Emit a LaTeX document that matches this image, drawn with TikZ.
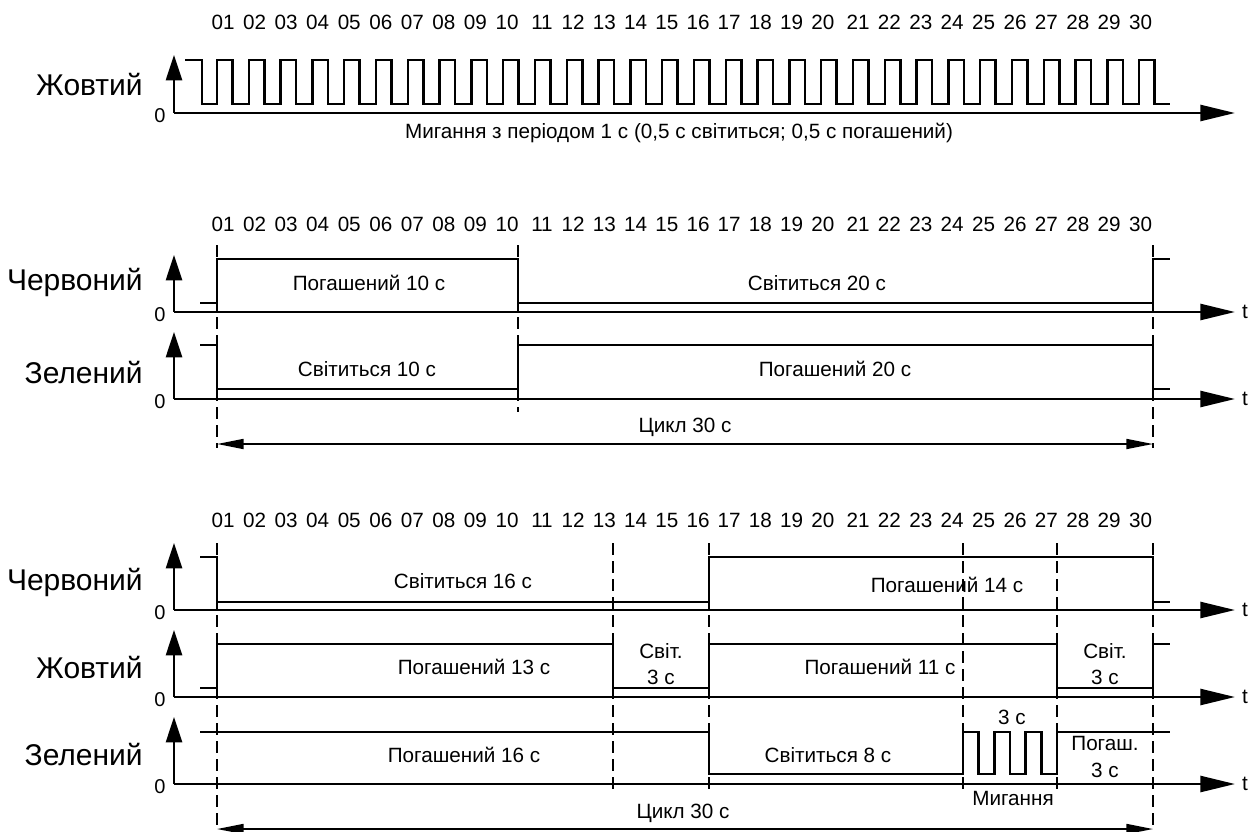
\documentclass[tikz,border=0pt]{standalone}
\usepackage{fontspec}
\setmainfont{Liberation Sans}
\usetikzlibrary{arrows.meta}
\newcommand\NumRow[2]{%
  \foreach \k/\s in {1/01,2/02,3/03,4/04,5/05,6/06,7/07,8/08,9/09,10/10}
    \node[num] (#2\k) at ({223+(\k-1)*31.56},#1) {\s};
  \foreach \k in {11,...,20}
    \node[num] (#2\k) at ({542+(\k-11)*31.2},#1) {\k};
  \foreach \k in {21,...,30}
    \node[num] (#2\k) at ({858+(\k-21)*31.4},#1) {\k};
}
\newcommand\AxisPair[4]{% axis y, tip y, name, show t
  \coordinate (#3o) at (174,#1);
  \coordinate (#3v) at (174,#2);
  \coordinate (#3h) at (1235,#1);
  \draw[vaxis] (#3o) -- (#3v);
  \draw[haxis] (#3o) -- (#3h);
  \node[zero] (#3z) at (160,{#1+3}) {0};
  \ifnum#4=1 \node[num] (#3t) at (1245,#1) {t};\fi
}
\begin{document}
\begin{tikzpicture}[x=0.75pt,y=-0.75pt,
  sig/.style={line width=1.9pt, line join=miter},
  vaxis/.style={line width=1.9pt, -{Triangle[length=19pt,width=12pt]}},
  haxis/.style={line width=1.9pt, -{Triangle[length=26pt,width=12pt]}},
  guide/.style={line width=1.1pt, dash pattern=on 9pt off 4.5pt},
  cyc/.style={line width=1.3pt, {Triangle[length=20pt,width=7.5pt]}-{Triangle[length=20pt,width=7.5pt]}},
  num/.style={font=\fontsize{15.5}{18}\selectfont, inner sep=0pt},
  chan/.style={font=\fontsize{22.5}{27}\selectfont, anchor=east, inner sep=0pt},
  lbl/.style={font=\fontsize{15.5}{20}\selectfont, inner sep=0pt, align=center},
  zero/.style={font=\fontsize{15}{17}\selectfont, inner sep=0pt},
]
\useasboundingbox (0,0) rectangle (1251,831);

% ---------------- top chart ----------------
\NumRow{22}{a}
\node[chan] (ay) at (143,85) {Жовтий};
\AxisPair{113}{55}{ax}{0}
\draw[sig] (185,60) -- (202,60) -- (202,104) -- (217,104)
  \foreach \k in {0,...,29}{ -- ({217+\k*31.8},104) -- ({217+\k*31.8},60)
     -- ({232.5+\k*31.8},60) -- ({232.5+\k*31.8},104) } -- (1170,104);
\node[num] (ablink) at (679,133) {Мигання з періодом 1 с (0,5 с світиться; 0,5 с погашений)};

% ---------------- middle chart ----------------
\NumRow{224}{b}
\node[chan] (br) at (143,282) {Червоний};
\node[chan] (bg) at (143,373) {Зелений};
\coordinate (bg0t) at (217,245); \coordinate (bg0b) at (217,448);
\coordinate (bg10t) at (518,245); \coordinate (bg10b) at (518,412);
\coordinate (bg30t) at (1153,245); \coordinate (bg30b) at (1153,448);
\draw[guide] (bg0t) -- (bg0b);
\draw[guide] (bg10t) -- (bg10b);
\draw[guide] (bg30t) -- (bg30b);
\AxisPair{312}{255}{bxr}{1}
\AxisPair{399}{332}{bxg}{1}
\draw[sig] (200,303) -- (217,303) -- (217,259) -- (518,259) -- (518,303)
  -- (1153,303) -- (1153,259) -- (1170,259);
\draw[sig] (200,345) -- (217,345) -- (217,389) -- (518,389) -- (518,345)
  -- (1153,345) -- (1153,389) -- (1170,389);
\node[lbl] (b1) at (369,283) {Погашений 10 с};
\node[lbl] (b2) at (817,283) {Світиться 20 с};
\node[lbl] (b3) at (367,369) {Світиться 10 с};
\node[lbl] (b4) at (835,369) {Погашений 20 с};
\coordinate (bca) at (217,444); \coordinate (bcb) at (1153,444);
\draw[cyc] (bca) -- (bcb);
\node[lbl] (bcyc) at (685,427) {Цикл 30 с};

% ---------------- bottom chart ----------------
\NumRow{520}{c}
\node[chan] (cr) at (143,582) {Червоний};
\node[chan] (cy) at (143,668) {Жовтий};
\node[chan] (cg) at (143,755) {Зелений};
\foreach \x/\yb in {217/831,613/792,709/792,963/792,1057/792,1153/831}{
  \coordinate (cgt\x) at (\x,543); \coordinate (cgb\x) at (\x,\yb);
  \draw[guide] (cgt\x) -- (cgb\x);
}
\AxisPair{610}{543}{cxr}{1}
\AxisPair{697}{630}{cxy}{1}
\AxisPair{784}{717}{cxg}{1}
% red
\draw[sig] (200,557) -- (217,557) -- (217,602) -- (709,602) -- (709,557)
  -- (1153,557) -- (1153,602) -- (1170,602);
% yellow
\draw[sig] (200,688) -- (217,688) -- (217,644) -- (613,644) -- (613,688)
  -- (709,688) -- (709,644) -- (1057,644) -- (1057,688) -- (1153,688)
  -- (1153,644) -- (1170,644);
% green
\draw[sig] (200,732) -- (709,732) -- (709,774) -- (963,774)
  -- (963,732) -- (978.7,732) -- (978.7,774) -- (994.3,774)
  -- (994.3,732) -- (1010,732) -- (1010,774) -- (1025.7,774)
  -- (1025.7,732) -- (1041.3,732) -- (1041.3,774) -- (1057,774)
  -- (1057,732) -- (1170,732);
\node[lbl] (c1) at (463,581) {Світиться 16 с};
\node[lbl] (c2) at (947,585) {Погашений 14 с};
\node[lbl] (c3) at (474,667) {Погашений 13 с};
\node[lbl] (c4) at (661,664) {Світ.\\3 с};
\node[lbl] (c5) at (880,667) {Погашений 11 с};
\node[lbl] (c6) at (1105,664) {Світ.\\3 с};
\node[lbl] (c7) at (464,755) {Погашений 16 с};
\node[lbl] (c8) at (828,755) {Світиться 8 с};
\node[lbl] (c9) at (1012,717) {3 с};
\node[lbl] (c10) at (1105,757) {Погаш.\\3 с};
\node[lbl] (c11) at (1013,798) {Мигання};
\coordinate (cca) at (217,829); \coordinate (ccb) at (1153,829);
\draw[cyc] (cca) -- (ccb);
\node[lbl] (ccyc) at (683,813) {Цикл 30 с};
\end{tikzpicture}
\end{document}
